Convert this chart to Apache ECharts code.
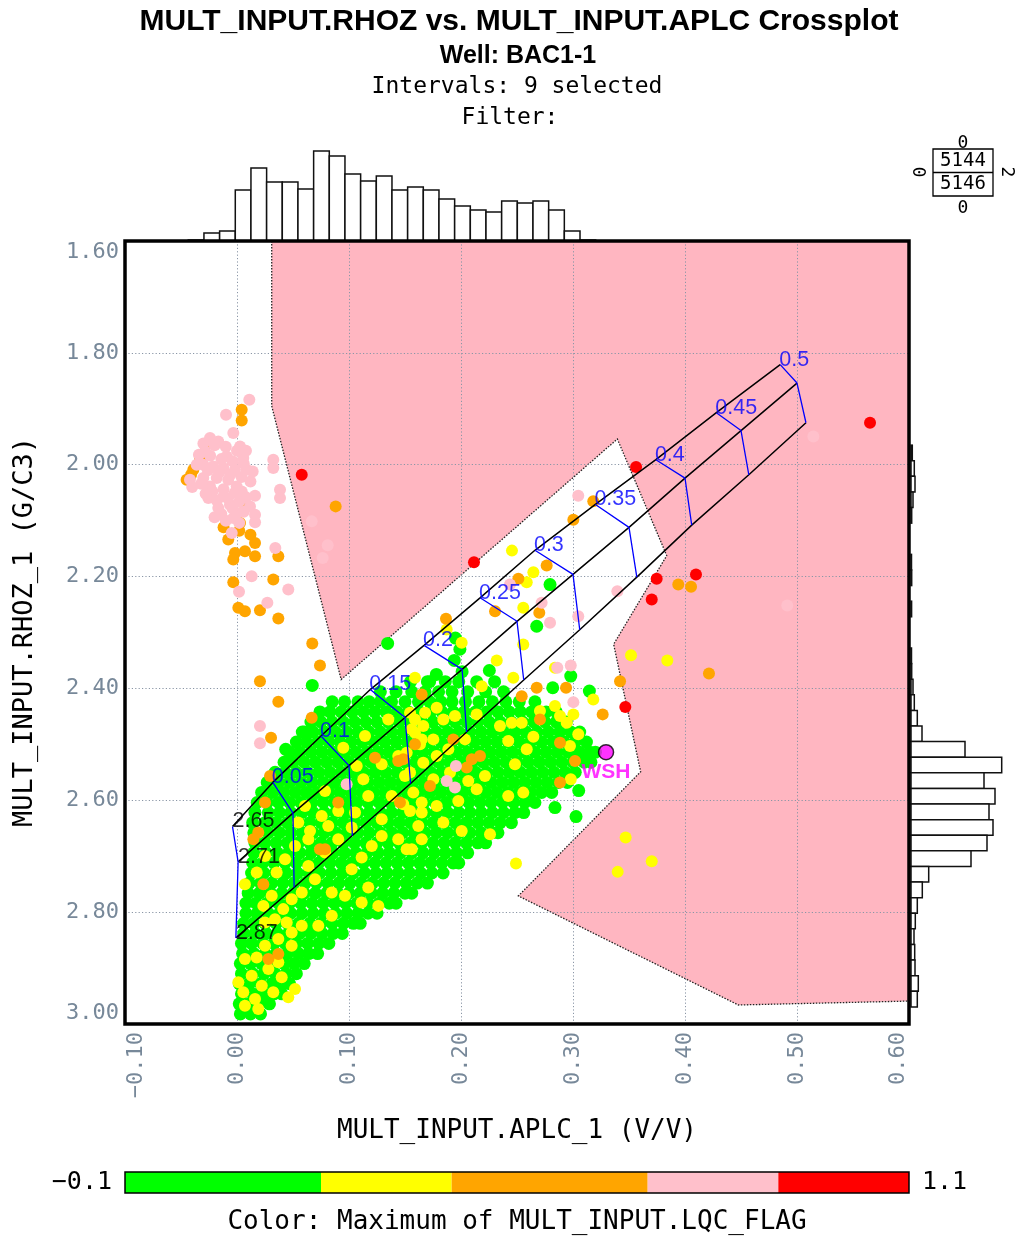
<!DOCTYPE html>
<html><head><meta charset="utf-8">
<script src="https://cdn.jsdelivr.net/npm/echarts@6/dist/echarts.min.js"></script>
<style>html,body{margin:0;padding:0;background:#fff}#c{width:1016px;height:1239px}</style>
</head><body><div id="c"></div>
<script>
// ---------- axes ----------
const xMin = -0.1, xMax = 0.6, xInterval = 0.1;
const yMin = 1.6, yMax = 3.0, yInterval = 0.2;
const xTickLabels = ['\u22120.10','0.00','0.10','0.20','0.30','0.40','0.50','0.60'];
const yTickLabels = ['1.60','1.80','2.00','2.20','2.40','2.60','2.80','3.00'];

// ---------- shaded (excluded) region polygon ----------
const shadeX = [0.031, 0.031, 0.093, 0.3396, 0.3837, 0.3363, 0.3604, 0.2512, 0.4476, 0.6, 0.6];
const shadeY = [1.6, 1.895, 2.384, 1.954, 2.1625, 2.321, 2.549, 2.771, 2.966, 2.959, 1.6];

// ---------- lithology / porosity chart overlay ----------
const porosity = [0, 0.05, 0.1, 0.15, 0.2, 0.25, 0.3, 0.35, 0.4, 0.45, 0.5];
const porosityLabels = ['', '0.05', '0.1', '0.15', '0.2', '0.25', '0.3', '0.35', '0.4', '0.45', '0.5'];
const ssX = [-0.004, 0.032, 0.075, 0.119, 0.167, 0.217, 0.266, 0.320, 0.374, 0.428, 0.485];
const ssY = [2.647, 2.568, 2.485, 2.402, 2.323, 2.238, 2.153, 2.071, 1.991, 1.907, 1.821];
const lsX = [0.001, 0.050, 0.100, 0.150, 0.201, 0.250, 0.300, 0.350, 0.400, 0.450, 0.500];
const lsY = [2.710, 2.623, 2.538, 2.452, 2.366, 2.280, 2.196, 2.112, 2.024, 1.939, 1.854];
const dolX = [-0.001, 0.051, 0.103, 0.155, 0.205, 0.256, 0.306, 0.357, 0.406, 0.457, 0.508];
const dolY = [2.846, 2.756, 2.663, 2.570, 2.478, 2.385, 2.295, 2.201, 2.108, 2.018, 1.925];
const lithLabels = ['2.65', '2.71', '2.87'];

// ---------- scatter points (APLC, RHOZ) by LQC_FLAG colour ----------
const greenRows = [
 [2.982,[0.003,0.012,0.021]],
 [2.964,[0.002,0.011,0.020,0.029]],
 [2.946,[0.004,0.014,0.024,0.033,0.040]],
 [2.928,[0.002,0.011,0.021,0.031,0.040,0.047]],
 [2.910,[0.004,0.014,0.024,0.034,0.044,0.053]],
 [2.892,[0.003,0.012,0.022,0.032,0.042,0.051,0.060]],
 [2.874,[0.005,0.015,0.025,0.035,0.045,0.055,0.064,0.072]],
 [2.856,[0.004,0.013,0.023,0.033,0.043,0.053,0.063,0.073,0.082]],
 [2.838,[0.006,0.016,0.026,0.036,0.046,0.056,0.066,0.076,0.086,0.094]],
 [2.820,[0.006,0.015,0.025,0.035,0.045,0.055,0.065,0.075,0.085,0.095,0.104,0.110]],
 [2.802,[0.008,0.018,0.028,0.038,0.048,0.058,0.068,0.078,0.088,0.098,0.108,0.117,0.125]],
 [2.784,[0.008,0.017,0.027,0.037,0.047,0.057,0.067,0.077,0.087,0.097,0.107,0.117,0.127,0.136,0.142]],
 [2.766,[0.010,0.020,0.030,0.040,0.050,0.060,0.070,0.080,0.090,0.100,0.110,0.120,0.130,0.140,0.150,0.156]],
 [2.748,[0.011,0.021,0.031,0.041,0.051,0.061,0.071,0.081,0.091,0.101,0.111,0.121,0.131,0.141,0.151,0.161,0.170]],
 [2.730,[0.013,0.024,0.034,0.044,0.054,0.064,0.074,0.084,0.094,0.104,0.114,0.124,0.134,0.144,0.154,0.164,0.174,0.184]],
 [2.712,[0.014,0.023,0.033,0.043,0.053,0.063,0.073,0.083,0.093,0.103,0.113,0.123,0.133,0.143,0.153,0.163,0.173,0.183,0.193,0.198]],
 [2.694,[0.015,0.026,0.036,0.046,0.056,0.066,0.076,0.086,0.096,0.106,0.116,0.126,0.136,0.146,0.156,0.166,0.176,0.186,0.196,0.206]],
 [2.676,[0.016,0.025,0.035,0.045,0.055,0.065,0.075,0.085,0.095,0.105,0.115,0.125,0.135,0.145,0.155,0.165,0.175,0.185,0.195,0.205,0.215,0.222]],
 [2.658,[0.015,0.028,0.038,0.048,0.058,0.068,0.078,0.088,0.098,0.108,0.118,0.128,0.138,0.148,0.158,0.168,0.178,0.188,0.198,0.208,0.218,0.228,0.233]],
 [2.640,[0.014,0.025,0.035,0.045,0.055,0.065,0.075,0.085,0.095,0.105,0.115,0.125,0.135,0.145,0.155,0.165,0.175,0.185,0.195,0.205,0.215,0.225,0.235,0.245]],
 [2.622,[0.016,0.028,0.038,0.048,0.058,0.068,0.078,0.088,0.098,0.108,0.118,0.128,0.138,0.148,0.158,0.168,0.178,0.188,0.198,0.208,0.218,0.228,0.238,0.248,0.256]],
 [2.604,[0.018,0.027,0.037,0.047,0.057,0.067,0.077,0.087,0.097,0.107,0.117,0.127,0.137,0.147,0.157,0.167,0.177,0.187,0.197,0.207,0.217,0.227,0.237,0.247,0.257,0.266]],
 [2.586,[0.022,0.032,0.042,0.052,0.062,0.072,0.082,0.092,0.102,0.112,0.122,0.132,0.142,0.152,0.162,0.172,0.182,0.192,0.202,0.212,0.222,0.232,0.242,0.252,0.262,0.272,0.281]],
 [2.568,[0.027,0.037,0.047,0.057,0.067,0.077,0.087,0.097,0.107,0.117,0.127,0.137,0.147,0.157,0.167,0.177,0.187,0.197,0.207,0.217,0.227,0.237,0.247,0.257,0.267,0.277,0.287,0.295]],
 [2.550,[0.034,0.043,0.053,0.063,0.073,0.083,0.093,0.103,0.113,0.123,0.133,0.143,0.153,0.163,0.173,0.183,0.193,0.203,0.213,0.223,0.233,0.243,0.253,0.263,0.273,0.283,0.293,0.302]],
 [2.532,[0.042,0.050,0.060,0.070,0.080,0.090,0.100,0.110,0.120,0.130,0.140,0.150,0.160,0.170,0.180,0.190,0.200,0.210,0.220,0.230,0.240,0.250,0.260,0.270,0.280,0.290,0.300,0.310,0.316]],
 [2.514,[0.047,0.056,0.066,0.076,0.086,0.096,0.106,0.116,0.126,0.136,0.146,0.156,0.166,0.176,0.186,0.196,0.206,0.216,0.226,0.236,0.246,0.256,0.266,0.276,0.286,0.296,0.306,0.315,0.320]],
 [2.496,[0.053,0.062,0.072,0.082,0.092,0.102,0.112,0.122,0.132,0.142,0.152,0.162,0.172,0.182,0.192,0.202,0.212,0.222,0.232,0.242,0.252,0.262,0.272,0.282,0.292,0.302,0.312]],
 [2.478,[0.060,0.068,0.078,0.088,0.098,0.108,0.118,0.128,0.138,0.148,0.158,0.168,0.178,0.188,0.198,0.208,0.218,0.228,0.238,0.248,0.258,0.268,0.278,0.288,0.298,0.306]],
 [2.460,[0.066,0.075,0.085,0.095,0.105,0.115,0.125,0.135,0.145,0.155,0.165,0.175,0.185,0.195,0.205,0.215,0.225,0.235,0.245,0.255,0.265,0.275,0.285,0.294]],
 [2.442,[0.074,0.083,0.093,0.103,0.113,0.123,0.133,0.143,0.153,0.163,0.173,0.183,0.193,0.203,0.213,0.223,0.233,0.243,0.253,0.263,0.276,0.285]],
 [2.424,[0.085,0.096,0.108,0.118,0.128,0.138,0.150,0.162,0.172,0.182,0.192,0.204,0.216,0.228,0.240,0.252,0.266]],
 [2.406,[0.128,0.142,0.156,0.168,0.180,0.192,0.206,0.222,0.238]],
 [2.388,[0.155,0.172,0.186,0.198,0.214,0.230]]
];
const greenExtra = [[0.2795,2.2143],[0.2676,2.2888],[0.2253,2.3679],[0.298,2.378],[0.3146,2.4048],[0.2819,2.3988],
 [0.3051,2.5827],[0.3027,2.6291],[0.2839,2.613],[0.0672,2.3946],[0.0583,2.478],[0.0435,2.5089],[0.1345,2.3196],
 [0.195,2.31],[0.199,2.33],[0.194,2.35],[0.201,2.37],[0.178,2.375],[0.17,2.388]];

const yellowPts = [[0.1589,2.3809],[0.1351,2.4554],[0.1143,2.4852],[0.0949,2.5059],[0.1069,2.5388],[0.1128,2.5625],
 [0.1589,2.4554],[0.156,2.4732],[0.1649,2.4911],[0.144,2.5209],[0.1292,2.5357],[0.0786,2.5834],[0.0904,2.6191],
 [0.0756,2.628],[0.0607,2.6102],[0.0547,2.6398],[0.0652,2.6548],[0.0815,2.6459],[0.1054,2.622],[0.1172,2.5923],
 [0.1292,2.6339],[0.1381,2.5923],[0.1545,2.6191],[0.1649,2.6041],[0.1292,2.6638],[0.144,2.6696],[0.1619,2.6459],
 [0.156,2.6875],[0.1203,2.6816],[0.1113,2.7023],[0.0904,2.6696],[0.1024,2.7232],[0.0786,2.6934],[0.0637,2.6696],
 [0.0518,2.6816],[0.0429,2.7054],[0.0354,2.7291],[0.025,2.6995],[0.0176,2.7291],[0.0071,2.75],[0.0637,2.7173],
 [0.0696,2.7411],[0.0578,2.7648],[0.0488,2.7768],[0.0413,2.7946],[0.031,2.7709],[0.0235,2.7888],[0.0846,2.7648],
 [0.0964,2.7709],[0.1172,2.7559],[0.1262,2.7888],[0.1113,2.7827],[0.0846,2.8066],[0.0726,2.8245],[0.0578,2.8245],
 [0.0444,2.8184],[0.0339,2.8125],[0.025,2.8184],[0.0488,2.8363],[0.0369,2.8482],[0.025,2.8602],[0.0176,2.8809],
 [0.0488,2.8602],[0.0369,2.8898],[0.028,2.9018],[0.0071,2.8839],[0.0012,2.9255],[0.0131,2.9138],[0.0221,2.9316],
 [0.0056,2.9434],[0.0161,2.9554],[0.0458,2.9523],[0.0518,2.9375],[0.0399,2.9166],[0.019,2.9732],[0.0071,2.9673],
 [0.0324,2.9434],[0.1024,2.6488],[0.15,2.5566],
 [0.2006,2.3184],[0.1545,2.4434],[0.1679,2.4434],[0.1783,2.4345],[0.1663,2.4673],[0.1842,2.4554],[0.1946,2.4495],
 [0.2036,2.4911],[0.214,2.4464],[0.1753,2.4911],[0.1634,2.5],[0.1515,2.5148],[0.1887,2.5089],[0.1783,2.5209],
 [0.1663,2.5327],[0.1545,2.5505],[0.1902,2.5505],[0.1753,2.5625],[0.1574,2.5863],[0.1485,2.6071],[0.1783,2.6102],
 [0.1649,2.622],[0.1842,2.6398],[0.1976,2.6013],[0.2065,2.5655],[0.214,2.5804],[0.2214,2.5566],[0.2422,2.4941],
 [0.2348,2.4673],[0.2453,2.4613],[0.2542,2.4613],[0.2587,2.5089],[0.2482,2.5357],[0.2705,2.4405],[0.2839,2.4316],
 [0.2944,2.4613],[0.3047,2.4821],[0.2973,2.503],[0.2884,2.4495],[0.2646,2.4863],[0.298,2.5625],[0.2006,2.6548],
 [0.1649,2.6696],[0.1515,2.6875],[0.1589,2.4791],[0.3003,2.4464],[0.2556,2.5863],[0.2422,2.5923],
 [0.2646,2.1923],[0.2587,2.2102],[0.2556,2.2559],[0.1872,2.2946],[0.2556,2.3214],[0.2319,2.35],[0.2467,2.3809],
 [0.2185,2.3959],[0.2839,2.363],[0.3181,2.4196],[0.3518,2.3405],[0.3842,2.35],[0.347,2.6666],[0.3703,2.7089],
 [0.3399,2.728],[0.2491,2.713],[0.2259,2.6607],[0.2455,2.1536]];

const orangePts = [[0.0042,1.9018],[0.0042,1.9209],[-0.033,1.988],[-0.039,2.009],[-0.045,2.027],[0.0071,2.0714],
 [0.0027,2.1041],[-0.0078,2.1339],[0.0161,2.1398],[0.0071,2.1548],[-0.0018,2.1577],[-0.0033,2.1696],[0.0161,2.1637],
 [0.0369,2.1637],[-0.0033,2.2102],[0.0324,2.2054],[0.0012,2.2559],[0.0071,2.262],[0.0205,2.2602],[0.0369,2.275],
 [0.0881,2.0745],[0.0672,2.3196],[0.0741,2.3589],[0.0205,2.387],[0.0369,2.4238],[0.0304,2.488],[0.0667,2.4523],
 [0.0295,2.5566],[0.025,2.6041],[0.019,2.6577],[0.0146,2.6696],[0.0235,2.75],[0.028,2.8839],[0.0369,2.875],
 [0.0741,2.6875],[0.0786,2.6875],[0.0904,2.6041],[0.1232,2.5238],[0.144,2.5298],[0.1589,2.5],[0.1455,2.6041],
 [0.1649,2.4107],[0.1931,2.4911],[0.2096,2.5268],[0.217,2.5209],[0.2051,2.5416],[0.1723,2.5745],[0.1485,2.5268],
 [0.1866,2.2755],[0.2304,2.262],[0.2512,2.2041],[0.2765,2.1804],[0.2699,2.2648],[0.2676,2.3988],[0.2542,2.4138],
 [0.2705,2.4554],[0.2884,2.497],[0.3018,2.5298],[0.2884,2.5684],[0.3265,2.4464],[0.2938,2.3988],[0.3181,2.0655],
 [0.3003,2.0982],[0.342,2.387],[0.394,2.2143],[0.4054,2.2184],[0.4214,2.3732],
 [-0.028,1.965],[-0.041,2.018],[0.002,2.118],[0.012,2.125],[-0.012,2.112]];

const pinkPts = [[0.011,1.884],[-0.0098,1.9107],[-0.0033,1.9434],[-0.0241,1.9523],[-0.0167,1.9584],[0.0027,1.9673],
 [-0.0286,1.9763],[-0.0092,1.9852],[0.0056,1.988],[0.0324,1.9911],[0.0324,2.0059],[-0.0301,2.0],[-0.0212,2.003],
 [-0.0122,2.0059],[-0.0018,2.0089],[0.0087,2.0089],[-0.042,2.0268],[-0.0301,2.0238],[-0.0181,2.0238],[-0.0078,2.0268],
 [-0.0241,2.0388],[-0.0003,2.0388],[0.0384,2.0446],[0.0384,2.0595],[0.0042,2.0477],[0.0161,2.0554],[-0.0256,2.0595],
 [-0.0122,2.0566],[-0.0167,2.0773],[-0.0063,2.0714],[0.0116,2.0745],[-0.0003,2.0863],[0.0161,2.0893],[0.0161,2.103],
 [-0.0033,2.0952],[-0.0047,2.122],[0.0342,2.1488],[0.0131,2.1995],[0.0018,2.2273],[0.0458,2.2232],[0.0271,2.247],
 [0.0205,2.4673],[0.0205,2.4982],[0.0979,2.5714],[0.0667,2.1013],[0.081,2.1441],[0.0765,2.1666],[0.4913,2.2518],
 [0.5146,1.9495],[0.3047,2.0554],[0.3396,2.2262],[0.272,2.247],[0.2795,2.2827],[0.3047,2.2708],[0.2437,2.2143],
 [0.298,2.3589],[0.286,2.363],[0.3003,2.4245],[0.1955,2.5388],[0.1872,2.5655],[0.1946,2.5773],
 // dense blob of the upper-left cluster
 [-0.030,1.962],[-0.020,1.965],[-0.010,1.968],[0.000,1.975],[-0.034,1.982],[-0.024,1.984],[-0.014,1.990],
 [-0.004,1.994],[0.006,1.998],[-0.036,2.000],[-0.026,2.010],[-0.016,2.014],[-0.006,2.018],[0.004,2.022],
 [0.012,2.030],[-0.032,2.034],[-0.022,2.048],[-0.012,2.044],[-0.002,2.050],[0.008,2.058],[-0.028,2.052],
 [-0.018,2.064],[-0.008,2.060],[0.002,2.066],[-0.014,2.088],[-0.004,2.078],[0.006,2.084],[-0.010,2.100],
 [0.002,2.104],[-0.020,2.094],[0.008,1.975],[0.014,2.012],[-0.040,2.040]];

const redPts = [[0.0578,2.0179],[0.2116,2.1745],[0.3563,2.0041],[0.3747,2.2041],[0.4098,2.1964],[0.3703,2.241],
 [0.3467,2.4334],[0.5652,1.925]];

const wshPoint = [0.3295, 2.514];
const wshLabel = 'WSH';

// ---------- marginal histograms ----------
const topHistStart = -0.0435, topHistBin = 0.01399;
const topHistCounts = [1,8,10,51,73,59,59,52,90,85,67,60,65,51,54,51,42,35,31,29,40,38,40,31,10,1];
const rightHistStart = 1.965, rightHistBin = 0.0279;
const rightHistCounts = [1.3,3.3,4,2,0.7,0,0,0.5,0.7,0,0.6,0,0,0.5,0.7,2,3.3,6.3,11,54,90.7,73,84,78,82,76,60,17.7,11.3,6.3,4.3,3,3.7,4,7.3,6.3];

// ---------- colour scale ----------
const colorBreaks = [-0.1, 0.2, 0.4, 0.7, 0.9, 1.1];
const colorList = ['#00ff00', '#ffff00', '#ffa500', '#ffc0cb', '#ff0000'];
const legendCounts = ['5144', '5146'];

// ---------- build ----------
const greenPts = greenRows.flatMap(([y, xs]) => xs.map(x => [x, y])).concat(greenExtra);
const mono = '"DejaVu Sans Mono", monospace';
const sans = '"Liberation Sans", Arial, sans-serif';
const axisColor = '#778899';

function scatter(name, data, color, size) {
  return { type: 'scatter', name, data, symbolSize: size, z: 3, silent: true,
    itemStyle: { color: color, opacity: 1, borderWidth: 0 } };
}
function lineSeries(data, color, width) {
  return { type: 'line', data, symbol: 'none', z: 4, silent: true, smooth: false,
    lineStyle: { color, width }, xAxisIndex: 0, yAxisIndex: 0 };
}

const series = [];
series.push({
  type: 'custom', name: 'shade', xAxisIndex: 0, yAxisIndex: 0, z: 1, silent: true, clip: true,
  data: [[0.2, 2.2]],
  renderItem: (p, api) => ({
    type: 'polygon',
    shape: { points: shadeX.map((x, i) => api.coord([x, shadeY[i]])) },
    style: { fill: '#ffb6c1', stroke: '#222', lineWidth: 1.3, lineDash: [1.5, 1.5] }
  })
});
series.push(scatter('g', greenPts, colorList[0], 13));
series.push(scatter('y', yellowPts, colorList[1], 12));
series.push(scatter('o', orangePts, colorList[2], 12));
series.push(scatter('p', pinkPts, colorList[3], 12));
series.push(scatter('r', redPts, colorList[4], 12));

const lithX = [ssX, lsX, dolX], lithY = [ssY, lsY, dolY];
lithX.forEach((xs, k) => series.push(lineSeries(xs.map((x, i) => [x, lithY[k][i]]), '#000', 1.5)));
porosity.forEach((phi, i) => series.push(lineSeries(
  [[ssX[i], ssY[i]], [lsX[i], lsY[i]], [dolX[i], dolY[i]]], '#0000ff', 1.3)));

series.push({
  type: 'scatter', z: 5, silent: true, symbolSize: 0,
  data: porosity.map((phi, i) => ({ value: [ssX[i], ssY[i]], name: porosityLabels[i] })).slice(1),
  label: { show: true, formatter: '{b}', position: 'right', distance: 0, offset: [-1, -5],
    color: '#0000ff', fontFamily: sans, fontSize: 21.5 }
});
series.push({
  type: 'scatter', z: 5, silent: true, symbolSize: 0,
  data: lithLabels.map((t, k) => ({ value: [lithX[k][0], lithY[k][0]], name: t })),
  label: { show: true, formatter: '{b}', position: 'right', distance: 0, offset: [0, -5],
    color: '#000', fontFamily: sans, fontSize: 21.5 }
});
series.push({
  type: 'scatter', z: 6, silent: true, symbolSize: 15,
  data: [{ value: wshPoint, name: wshLabel }],
  itemStyle: { color: '#ff00ff', borderColor: '#000', borderWidth: 1.5 },
  label: { show: true, formatter: '{b}', position: 'bottom', distance: 1,
    color: '#ff00ff', fontFamily: sans, fontWeight: 'bold', fontSize: 21 }
});
// top histogram
series.push({
  type: 'custom', xAxisIndex: 1, yAxisIndex: 1, silent: true, z: 2,
  data: topHistCounts.map((c, i) => [topHistStart + i * topHistBin, topHistStart + (i + 1) * topHistBin, c]),
  renderItem: (p, api) => {
    const a = api.coord([api.value(0), 0]), b = api.coord([api.value(1), api.value(2)]);
    if (api.value(2) <= 0) return null;
    return { type: 'rect', shape: { x: a[0], y: b[1], width: b[0] - a[0], height: a[1] - b[1] },
      style: { fill: '#fff', stroke: '#111', lineWidth: 1.5 } };
  }
});
// right histogram
series.push({
  type: 'custom', xAxisIndex: 2, yAxisIndex: 2, silent: true, z: 2,
  data: rightHistCounts.map((c, i) => [rightHistStart + i * rightHistBin, rightHistStart + (i + 1) * rightHistBin, c]),
  renderItem: (p, api) => {
    if (api.value(2) <= 0) return null;
    const a = api.coord([0, api.value(0)]), b = api.coord([api.value(2), api.value(1)]);
    return { type: 'rect', shape: { x: a[0] + 2, y: a[1], width: b[0] - a[0], height: b[1] - a[1] },
      style: { fill: '#fff', stroke: '#111', lineWidth: 1.5 } };
  }
});
// colour bar
series.push({
  type: 'custom', xAxisIndex: 3, yAxisIndex: 3, silent: true, z: 2,
  data: colorList.map((c, i) => [colorBreaks[i], colorBreaks[i + 1], i]),
  renderItem: (p, api) => {
    const a = api.coord([api.value(0), 0]), b = api.coord([api.value(1), 1]);
    return { type: 'rect', shape: { x: a[0], y: b[1], width: b[0] - a[0], height: a[1] - b[1] },
      style: { fill: colorList[api.value(2)] } };
  }
});

const lblX = v => xTickLabels[Math.round((v - xMin) / xInterval)];
const lblY = v => yTickLabels[Math.round((v - yMin) / yInterval)];

const hiddenAxis = (grid, min, max, inverse) => ({ type: 'value', gridIndex: grid, min, max, inverse: !!inverse, show: false,
  splitLine: { show: false } });

const option = {
  animation: false,
  backgroundColor: '#fff',
  grid: [
    { left: 125, top: 241, width: 784, height: 783, show: true, z: 10, borderColor: '#000', borderWidth: 3.5,
      backgroundColor: 'transparent', outerBoundsMode: 'none', containLabel: false },
    { left: 125, top: 141, width: 784, height: 100, outerBoundsMode: 'none', containLabel: false },
    { left: 909, top: 241, width: 100, height: 783, outerBoundsMode: 'none', containLabel: false },
    { left: 125, top: 1172, width: 784, height: 21, show: true, z: 10, borderColor: '#000', borderWidth: 1.5,
      backgroundColor: 'transparent', outerBoundsMode: 'none', containLabel: false }
  ],
  xAxis: [
    { type: 'value', gridIndex: 0, min: xMin, max: xMax, interval: xInterval, z: 2,
      axisLine: { show: false }, axisTick: { show: false },
      splitLine: { show: true, showMinLine: false, showMaxLine: false, lineStyle: { color: '#8a96a6', width: 1, type: [1.2, 2.2] } },
      axisLabel: { rotate: 90, margin: 8, color: axisColor, fontFamily: mono, fontSize: 22, formatter: lblX,
        showMinLabel: true, showMaxLabel: true, hideOverlap: false,
        verticalAlignMinLabel: 'top', verticalAlignMaxLabel: 'bottom' } },
    hiddenAxis(1, xMin, xMax),
    hiddenAxis(2, 0, 100),
    hiddenAxis(3, colorBreaks[0], colorBreaks[colorBreaks.length - 1])
  ],
  yAxis: [
    { type: 'value', gridIndex: 0, min: yMin, max: yMax, interval: yInterval, inverse: true, z: 2,
      axisLine: { show: false }, axisTick: { show: false },
      splitLine: { show: true, showMinLine: false, showMaxLine: false, lineStyle: { color: '#8a96a6', width: 1, type: [1.2, 2.2] } },
      axisLabel: { margin: 6, color: axisColor, fontFamily: mono, fontSize: 22, formatter: lblY,
        showMinLabel: true, showMaxLabel: true, hideOverlap: false,
        verticalAlignMinLabel: 'top', verticalAlignMaxLabel: 'bottom' } },
    hiddenAxis(1, 0, 100),
    hiddenAxis(2, yMin, yMax, true),
    hiddenAxis(3, 0, 1)
  ],
  series,
  graphic: [
    { type: 'text', x: 519, y: 22, style: { text: 'MULT_INPUT.RHOZ vs. MULT_INPUT.APLC Crossplot', align: 'center', verticalAlign: 'middle', font: 'bold 30px ' + sans, fill: '#000' } },
    { type: 'text', x: 518, y: 56, style: { text: 'Well: BAC1-1', align: 'center', verticalAlign: 'middle', font: 'bold 25px ' + sans, fill: '#000' } },
    { type: 'text', x: 517, y: 87, style: { text: 'Intervals: 9 selected', align: 'center', verticalAlign: 'middle', font: '23px ' + mono, fill: '#000' } },
    { type: 'text', x: 510, y: 118, style: { text: 'Filter:', align: 'center', verticalAlign: 'middle', font: '23px ' + mono, fill: '#000' } },
    { type: 'text', x: 517, y: 1131, style: { text: 'MULT_INPUT.APLC_1 (V/V)', align: 'center', verticalAlign: 'middle', font: '26px ' + mono, fill: '#000' } },
    { type: 'text', x: 25, y: 632, rotation: Math.PI / 2, style: { text: 'MULT_INPUT.RHOZ_1 (G/C3)', align: 'center', verticalAlign: 'middle', font: '27px ' + mono, fill: '#000' } },
    { type: 'text', x: 112, y: 1182, style: { text: '\u22120.1', align: 'right', verticalAlign: 'middle', font: '25px ' + mono, fill: '#000' } },
    { type: 'text', x: 922, y: 1182, style: { text: '1.1', align: 'left', verticalAlign: 'middle', font: '25px ' + mono, fill: '#000' } },
    { type: 'text', x: 517, y: 1222, style: { text: 'Color: Maximum of MULT_INPUT.LQC_FLAG', align: 'center', verticalAlign: 'middle', font: '26px ' + mono, fill: '#000' } },
    // legend box
    { type: 'rect', shape: { x: 933, y: 149, width: 60, height: 47 }, style: { fill: 'none', stroke: '#000', lineWidth: 1.3 } },
    { type: 'line', shape: { x1: 933, y1: 172.5, x2: 993, y2: 172.5 }, style: { stroke: '#000', lineWidth: 1.3 } },
    { type: 'text', x: 963, y: 143, style: { text: '0', align: 'center', verticalAlign: 'middle', font: '18px ' + mono, fill: '#000' } },
    { type: 'text', x: 963, y: 161, style: { text: legendCounts[0], align: 'center', verticalAlign: 'middle', font: '19px ' + mono, fill: '#000' } },
    { type: 'text', x: 963, y: 184, style: { text: legendCounts[1], align: 'center', verticalAlign: 'middle', font: '19px ' + mono, fill: '#000' } },
    { type: 'text', x: 963, y: 208, style: { text: '0', align: 'center', verticalAlign: 'middle', font: '18px ' + mono, fill: '#000' } },
    { type: 'text', x: 921, y: 172, rotation: Math.PI / 2, style: { text: '0', align: 'center', verticalAlign: 'middle', font: '18px ' + mono, fill: '#000' } },
    { type: 'text', x: 1007, y: 172, rotation: -Math.PI / 2, style: { text: '2', align: 'center', verticalAlign: 'middle', font: '18px ' + mono, fill: '#000' } }
  ]
};

const chart = echarts.init(document.getElementById('c'), null, { renderer: 'canvas' });
chart.setOption(option);
</script>
</body></html>
